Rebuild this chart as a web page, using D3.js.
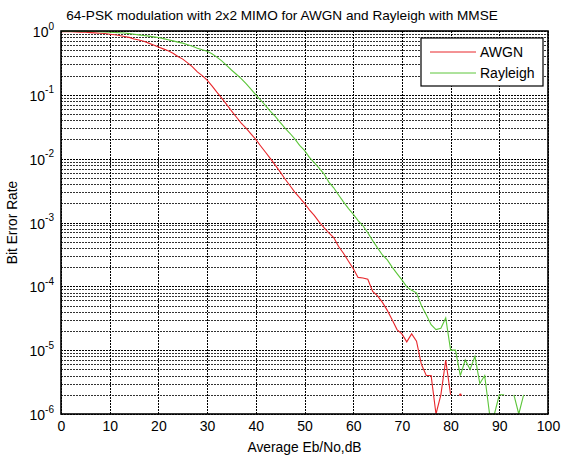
<!DOCTYPE html>
<html>
<head>
<meta charset="utf-8">
<script src="https://cdn.jsdelivr.net/npm/d3@7"></script>
<style>
  body { margin: 0; background: #fff; }
  svg { font-family: "Liberation Sans", Arial, sans-serif; }
</style>
</head>
<body>
<div id="chart"></div>
<script>
var snr = d3.range(0, 101)

// BER, null where nothing was counted (gap in semilogy)
var awgn = [0.977, 0.977, 0.977, 0.966, 0.955, 0.955, 0.944, 0.933, 0.923, 0.912,
    0.891, 0.871, 0.851, 0.822, 0.794, 0.75, 0.724, 0.692, 0.646, 0.603,
    0.562, 0.525, 0.49, 0.447, 0.398, 0.363, 0.316, 0.275, 0.229, 0.2,
    0.17, 0.138, 0.11, 0.089, 0.071, 0.056, 0.045, 0.036, 0.030, 0.0245,
    0.020, 0.0158, 0.0126, 0.0100, 0.0079, 0.0062, 0.0048, 0.0038, 0.0030, 0.00245,
    0.0020, 0.00158, 0.00129, 0.00102, 0.00083, 0.00069, 0.00058, 0.00042, 0.00033, 0.00025,
    0.00019, 0.000138, 0.000135, 0.000129, 0.000083, 0.000071, 0.000056, 0.000042, 0.000030, 0.000021,
    0.000018, 0.0000135, 0.000018, 0.0000138, 0.000006, 0.000004, 0.000004, 0.000001, 0.000002, 0.000007,
    0.000002, null, 0.000002, null, null, null, null, null, null, null,
    null, null, null, null, null, null, null, null, null, null, null]

var rayleigh = [0.99, 0.99, 0.99, 0.99, 0.988, 0.986, 0.984, 0.98, 0.975, 0.97,
    0.955, 0.95, 0.94, 0.93, 0.91, 0.89, 0.87, 0.85, 0.83, 0.81,
    0.79, 0.76, 0.73, 0.7, 0.67, 0.645, 0.61, 0.575, 0.537, 0.51,
    0.48, 0.44, 0.39, 0.34, 0.29, 0.245, 0.21, 0.18, 0.15, 0.123,
    0.100, 0.083, 0.068, 0.055, 0.046, 0.037, 0.030, 0.025, 0.0204, 0.0162,
    0.0135, 0.0105, 0.0087, 0.0071, 0.0058, 0.0043, 0.0035, 0.0027, 0.0021, 0.00166,
    0.00135, 0.00107, 0.00089, 0.00069, 0.00052, 0.00040, 0.00031, 0.00026, 0.00020, 0.000158,
    0.000126, 0.000098, 0.000087, 0.000079, 0.000050, 0.000036, 0.000025, 0.000021, 0.000022, 0.000032,
    0.000010, 0.000010, 0.000004, 0.000007, 0.000005, 0.000008, 0.000003, 0.000004, 0.000001, 0.000001,
    0.000002, 0.000002, null, 0.000002, 0.000001, 0.000002, null, null, null, null, null]

var seriesNames = ["AWGN", "Rayleigh"]
var seriesColors = ["#e8262b", "#5cc63a"]
var xTicks = [0, 10, 20, 30, 40, 50, 60, 70, 80, 90, 100]
var yTicks = [1e-6, 1e-5, 1e-4, 1e-3, 1e-2, 1e-1, 1]

var W = 563, H = 458
var pL = 61, pR = 548, pT = 31, pB = 414

var svg = d3.select("#chart").append("svg")
    .attr("width", W)
    .attr("height", H)

var x = d3.scaleLinear().domain([0, 100]).range([pL, pR])
var y = d3.scaleLog().domain([1e-6, 1]).range([pB, pT])

// minor log values for the grid
var minor = []
for (var e = -6; e < 0; e++) {
    for (var k = 2; k <= 9; k++) minor.push(k * Math.pow(10, e))
}

var grid = svg.append("g").attr("class", "grid")
grid.selectAll(".hminor").data(minor).enter().append("line")
    .attr("x1", pL).attr("x2", pR)
    .attr("y1", function(d){ return Math.round(y(d)) + 0.5 })
    .attr("y2", function(d){ return Math.round(y(d)) + 0.5 })
    .attr("stroke", "#000").attr("stroke-width", 1)
    .attr("stroke-dasharray", "2,1").attr("opacity", 0.8)
grid.selectAll(".hmajor").data(yTicks).enter().append("line")
    .attr("x1", pL).attr("x2", pR)
    .attr("y1", function(d){ return Math.round(y(d)) + 0.5 })
    .attr("y2", function(d){ return Math.round(y(d)) + 0.5 })
    .attr("stroke", "#000").attr("stroke-width", 1)
    .attr("stroke-dasharray", "2,1")
grid.selectAll(".vmajor").data(xTicks).enter().append("line")
    .attr("y1", pT).attr("y2", pB)
    .attr("x1", function(d){ return Math.round(x(d)) + 0.5 })
    .attr("x2", function(d){ return Math.round(x(d)) + 0.5 })
    .attr("stroke", "#000").attr("stroke-width", 1)
    .attr("stroke-dasharray", "2,1")

// curves
svg.append("clipPath").attr("id", "clip")
    .append("rect").attr("x", pL).attr("y", pT - 1)
    .attr("width", pR - pL).attr("height", pB - pT + 2)

var line = d3.line()
    .defined(function(d){ return d[1] != null })
    .x(function(d){ return x(d[0]) })
    .y(function(d){ return y(d[1]) })

var plot = svg.append("g").attr("clip-path", "url(#clip)")
;[awgn, rayleigh].forEach(function(vals, i) {
    var pts = snr.map(function(s, j){ return [s, vals[j]] })
    plot.append("path")
        .attr("d", line(pts))
        .attr("fill", "none")
        .attr("stroke", seriesColors[i])
        .attr("stroke-width", 1.1)
    // isolated samples show up as a dot
    var lone = pts.filter(function(p, j){
        return p[1] != null && (j == 0 || vals[j-1] == null) && (j == vals.length - 1 || vals[j+1] == null)
    })
    plot.selectAll(null).data(lone).enter().append("circle")
        .attr("cx", function(d){ return x(d[0]) })
        .attr("cy", function(d){ return y(d[1]) })
        .attr("r", 1.3)
        .attr("fill", seriesColors[i])
})

// box
svg.append("rect")
    .attr("x", pL).attr("y", pT)
    .attr("width", pR - pL).attr("height", pB - pT)
    .attr("fill", "none").attr("stroke", "#000").attr("stroke-width", 1.6)

// axes
var xAxis = svg.append("g")
    .attr("transform", "translate(0," + pB + ")")
    .call(d3.axisBottom(x).tickValues(xTicks).tickSize(0).tickPadding(7).tickFormat(d3.format("d")))
xAxis.select(".domain").remove()
xAxis.selectAll("text").attr("font-size", 14).attr("fill", "#000")
    .attr("font-family", "Liberation Sans, Arial, sans-serif")

var yAxis = svg.append("g")
    .attr("transform", "translate(" + pL + ",0)")
    .call(d3.axisLeft(y).tickValues(yTicks).tickSize(0).tickPadding(7).tickFormat(""))
yAxis.select(".domain").remove()
yAxis.selectAll(".tick text").each(function(d) {
    var t = d3.select(this)
    t.attr("font-size", 14).attr("fill", "#000")
        .attr("font-family", "Liberation Sans, Arial, sans-serif")
        .attr("dy", "0.4em")
    t.append("tspan").text("10")
    t.append("tspan").text(Math.round(Math.log10(d)))
        .attr("font-size", 10).attr("dy", "-0.75em")
})

// title and labels
svg.append("text")
    .attr("x", 282).attr("y", 20)
    .attr("text-anchor", "middle")
    .attr("font-size", 13.6)
    .text("64-PSK modulation with 2x2 MIMO for AWGN and Rayleigh with MMSE")

svg.append("text")
    .attr("x", (pL + pR) / 2).attr("y", 452)
    .attr("text-anchor", "middle")
    .attr("font-size", 13.8)
    .text("Average Eb/No,dB")

svg.append("text")
    .attr("transform", "translate(17," + ((pT + pB) / 2) + ") rotate(-90)")
    .attr("text-anchor", "middle")
    .attr("font-size", 13.8)
    .text("Bit Error Rate")

// legend
var lg = svg.append("g").attr("transform", "translate(421,38)")
lg.append("rect")
    .attr("width", 122).attr("height", 48)
    .attr("fill", "#fff").attr("stroke", "#000").attr("stroke-width", 1.2)
seriesNames.forEach(function(name, i) {
    var ly = 14 + i * 21
    lg.append("line")
        .attr("x1", 9).attr("x2", 55)
        .attr("y1", ly).attr("y2", ly)
        .attr("stroke", seriesColors[i]).attr("stroke-width", 1)
    lg.append("text")
        .attr("x", 59).attr("y", ly + 5)
        .attr("font-size", 14)
        .text(name)
})
</script>
</body>
</html>
